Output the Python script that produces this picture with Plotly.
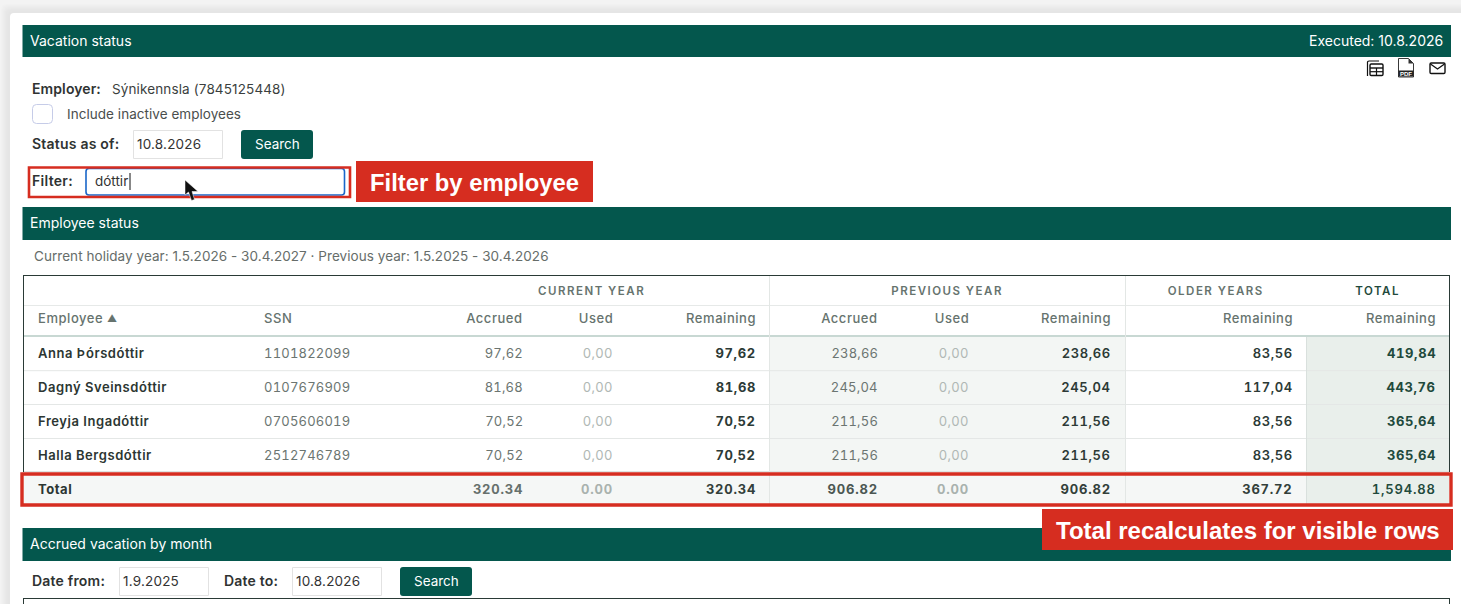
import json
import plotly.graph_objects as go

employees = ['Anna Þórsdóttir', 'Dagný Sveinsdóttir', 'Freyja Ingadóttir', 'Halla Bergsdóttir']
ssn = ['1101822099', '0107676909', '0705606019', '2512746789']
cur_accrued = [97.62, 81.68, 70.52, 70.52]
cur_used = [0.00, 0.00, 0.00, 0.00]
cur_remaining = [97.62, 81.68, 70.52, 70.52]
prev_accrued = [238.66, 245.04, 211.56, 211.56]
prev_used = [0.00, 0.00, 0.00, 0.00]
prev_remaining = [238.66, 245.04, 211.56, 211.56]
older_remaining = [83.56, 117.04, 83.56, 83.56]
total_remaining = [419.84, 443.76, 365.64, 365.64]
totals = [320.34, 0.00, 320.34, 906.82, 0.00, 906.82, 367.72, 1594.88]

group_labels = ['CURRENT YEAR', 'PREVIOUS YEAR', 'OLDER YEARS', 'TOTAL']
column_labels = ['Accrued', 'Used', 'Remaining', 'Accrued', 'Used', 'Remaining', 'Remaining', 'Remaining']

GREEN = '#04574d'
RED = '#d62d20'
INTER = 'Inter'
ARIAL = 'Liberation Sans'

shapes = []
annotations = []
text_css = []


def rect(x0, y0, x1, y1, fill=None, line=None, width=1):
    shapes.append(dict(type='rect', xref='x', yref='y', x0=x0, y0=y0, x1=x1, y1=y1,
                       fillcolor=fill or 'rgba(0,0,0,0)',
                       line=dict(color=line or 'rgba(0,0,0,0)', width=width if line else 0)))


def rrect(x0, y0, x1, y1, r, fill=None, line=None, width=1):
    p = (f'M{x0+r},{y0} L{x1-r},{y0} Q{x1},{y0} {x1},{y0+r} L{x1},{y1-r} Q{x1},{y1} {x1-r},{y1} '
         f'L{x0+r},{y1} Q{x0},{y1} {x0},{y1-r} L{x0},{y0+r} Q{x0},{y0} {x0+r},{y0} Z')
    shapes.append(dict(type='path', xref='x', yref='y', path=p,
                       fillcolor=fill or 'rgba(0,0,0,0)',
                       line=dict(color=line or 'rgba(0,0,0,0)', width=width if line else 0)))


def hline(x0, x1, y, color, width=1):
    shapes.append(dict(type='line', xref='x', yref='y', x0=x0, x1=x1, y0=y, y1=y, line=dict(color=color, width=width)))


def vline(x, y0, y1, color, width=1):
    shapes.append(dict(type='line', xref='x', yref='y', x0=x, x1=x, y0=y0, y1=y1, line=dict(color=color, width=width)))


def path(p, fill=None, line=None, width=1):
    shapes.append(dict(type='path', xref='x', yref='y', path=p,
                       fillcolor=fill or 'rgba(0,0,0,0)',
                       line=dict(color=line or 'rgba(0,0,0,0)', width=width if line else 0)))


def label(x, y, text, size=14, color='#333', weight=400, anchor='left', family=INTER, spacing=0, tabular=False):
    annotations.append(dict(xref='x', yref='y', x=x, y=y, text=text, showarrow=False, xanchor=anchor, align=anchor,
                            yanchor='middle', borderpad=0, borderwidth=0,
                            font=dict(family=family, size=size, color=color, weight=weight)))
    text_css.append([spacing, tabular])


def comma(v):
    return f'{v:.2f}'.replace('.', ',')


# page behind the card, soft shadow
rect(0, 0, 1461, 604, fill='#f3f3f3')
for i, gray in enumerate(['#f1f1f1', '#efefef', '#ededed', '#ebebeb', '#e9e9e9', '#e7e7e7', '#e6e6e6', '#e5e5e5']):
    off = 9 - i
    rrect(10 - off, 13 - off, 1490, 650, 6, fill=gray)
rrect(10, 13, 1480, 640, 4, fill='#ffffff')

# section bands
rect(22.5, 25, 1451, 57, fill=GREEN)
rect(22.5, 207, 1451, 240, fill=GREEN)
rect(22.5, 528, 1451, 561, fill=GREEN)
label(30, 40.5, 'Vacation status', 14, '#ffffff')
label(1443, 40.5, 'Executed: 10.8.2026', 14, '#ffffff', anchor='right')
label(30, 222.5, 'Employee status', 14, '#ffffff')
label(30, 543.5, 'Accrued vacation by month', 14, '#ffffff')

# export icons
path('M1367.5,76 L1367.5,62 Q1367.5,61 1369,61 L1379,61', line='#111111', width=1.2)
rrect(1370, 64, 1383, 75.5, 1.2, line='#111111', width=1.4)
hline(1370, 1383, 68, '#111111', 1.4)
hline(1370, 1383, 71.7, '#111111', 1.2)
vline(1376.5, 68, 75.5, '#111111', 1.2)
path('M1398.5,58.5 L1408.5,58.5 L1413.5,63.5 L1413.5,77 L1398.5,77 Z', line='#222222', width=0.9)
path('M1408.5,58.5 L1408.5,63.5 L1413.5,63.5 Z', fill='#333333')
rect(1398.5, 70.5, 1413.5, 76.5, fill='#222222')
label(1406, 73.5, 'PDF', 6, '#ffffff', 700, 'center', ARIAL)
rrect(1430, 63, 1445, 73.5, 1.2, line='#111111', width=1.4)
path('M1430.5,64 L1437.5,69 L1444.5,64', line='#111111', width=1.3)

# form rows
label(32, 88.5, 'Employer:', 14, '#2f3332', 600, spacing=0.1)
label(112, 89, 'Sýnikennsla (7845125448)', 13.5, '#3b3f3e', spacing=0.13)
rrect(32.5, 104.5, 52.5, 123.5, 4, fill='#ffffff', line='#c6cce8', width=1)
label(67, 114, 'Include inactive employees', 13.5, '#4a4e4d', spacing=0.04)
label(32, 143.5, 'Status as of:', 14, '#2f3332', 600, spacing=0.22)
rect(133.5, 130.5, 222.5, 158.5, fill='#ffffff', line='#e2e2e2')
label(137, 144, '10.8.2026', 13.5, '#333333', spacing=0.2)
rrect(241, 130, 313, 159, 3, fill=GREEN)
label(277, 144, 'Search', 13.5, '#ffffff', anchor='center')

label(32, 180.5, 'Filter:', 14, '#2f3332', 600, spacing=0.3)
rrect(86, 168.5, 344.5, 195, 3, fill='#ffffff', line='#1a66c9', width=1.6)
label(95, 181, 'dóttir', 13.5, '#333333')
vline(130, 173, 190, '#111111', 1)
rect(29, 167.5, 350, 197, line=RED, width=2.6)
# mouse pointer
path('M185,180 L185,195 L188.5,192 L191.5,200.5 L194.5,199.5 L192,191.5 L198,191.5 Z', fill='#111111', line='#ffffff', width=0.5)
rect(356, 161, 593, 202, fill=RED)
label(474.5, 182.5, 'Filter by employee', 23.8, '#ffffff', 700, 'center', ARIAL)

label(34, 256, 'Current holiday year: 1.5.2026 - 30.4.2027 · Previous year: 1.5.2025 - 30.4.2026', 13.5, '#666d6a', spacing=0.05)

# table fills
row_lines = [370.7, 404.5, 438.5]
rect(770, 337, 1125, 472, fill='#f3f6f4')
rect(1307, 337, 1449, 472, fill='#e9efeb')
rect(23, 472, 1449, 505, fill='#f5f7f6')
rect(1307, 472, 1449, 505, fill='#e9efeb')

# table lines
for y in row_lines:
    hline(24, 1449, y, '#e4e7e6', 1)
hline(24, 1449, 471.5, '#dfe3e1', 1)
hline(24, 1449, 305.5, '#e6e9e8', 1)
hline(24, 1449, 336, '#c8d8d3', 2)
vline(769.5, 276, 505, '#e3e7e5', 1)
vline(1125.5, 276, 505, '#e3e7e5', 1)
vline(1306.5, 337, 505, '#d9e0dd', 1)
hline(23, 1450, 275.5, '#2a3a36', 1)
vline(23.5, 275, 472, '#2a3a36', 1)
vline(1449.5, 275, 472, '#2a3a36', 1)

# table header
group_x = [592, 947, 1215.5, 1377.5]
group_colors = ['#66736e', '#66736e', '#66736e', '#1f4a3c']
for x, t, c in zip(group_x, group_labels, group_colors):
    label(x, 291, t, 11.5, c, 600, 'center', spacing=1.5)
label(38, 318, 'Employee', 13, '#66736e', 500, spacing=0.55)
label(107, 318, '▲', 10, '#66736e')
label(264, 318, 'SSN', 13, '#66736e', 500, spacing=0.6)
col_x = [522.5, 613, 755.5, 877.5, 968.5, 1111, 1292.5, 1435.5]
for x, t in zip(col_x, column_labels):
    label(x, 318, t, 13, '#66736e', 500, 'right', spacing=0.55)

# table body
row_y = [353, 387, 421, 455]
columns = [cur_accrued, cur_used, cur_remaining, prev_accrued, prev_used, prev_remaining, older_remaining, total_remaining]
styles = [('#6b7571', 400, 0.2), ('#b0b8b4', 400, 0.3), ('#2c3a36', 700, 0.6), ('#6b7571', 400, 0.2), ('#b0b8b4', 400, 0.3),
          ('#2c3a36', 600, 0.6), ('#2c3a36', 600, 0.6), ('#1f4a3c', 700, 0.6)]
for i, y in enumerate(row_y):
    label(38, y, employees[i], 13, '#2c3632', 600, spacing=0.55)
    label(264, y, ssn[i], 13, '#6b7571', spacing=0.2, tabular=True)
    for x, col, (c, w, sp) in zip(col_x, columns, styles):
        label(x, y, comma(col[i]), 13, c, w, 'right', spacing=sp, tabular=True)

# total row
label(38, 489, 'Total', 13, '#2c3632', 700, spacing=0.55)
total_colors = ['#66706c', '#a9b2ae', '#333f3a', '#4c5753', '#a9b2ae', '#333f3a', '#333f3a', '#1f4a3c']
for x, v, c in zip(col_x, totals, total_colors):
    label(x, 489, f'{v:,.2f}', 13, c, 700 if c != '#1f4a3c' else 600, 'right', spacing=0.8, tabular=True)
rect(22, 474, 1451, 505, line=RED, width=3.4)

rect(1042, 509, 1453, 550, fill=RED)
label(1247.5, 530.5, 'Total recalculates for visible rows', 24, '#ffffff', 700, 'center', ARIAL)

# second form
label(32, 580.5, 'Date from:', 14, '#2f3332', 600, spacing=0.2)
rect(119.5, 567.5, 208.5, 595.5, fill='#ffffff', line='#e2e2e2')
label(123, 581, '1.9.2025', 13.5, '#333333', spacing=0.2)
label(224, 580.5, 'Date to:', 14, '#2f3332', 600, spacing=0.2)
rect(292.5, 567.5, 381.5, 595.5, fill='#ffffff', line='#e2e2e2')
label(296, 581, '10.8.2026', 13.5, '#333333', spacing=0.2)
rrect(400, 567, 472, 596, 3, fill=GREEN)
label(436, 581, 'Search', 13.5, '#ffffff', anchor='center')
hline(23, 1450, 598.5, '#2a3a36', 1)
vline(23.5, 598, 604, '#2a3a36', 1)
vline(1449.5, 598, 604, '#2a3a36', 1)

fig = go.Figure(go.Scatter(x=[], y=[], hoverinfo='skip', showlegend=False))
fig.update_xaxes(range=[0, 1461], visible=False, fixedrange=True)
fig.update_yaxes(range=[604, 0], visible=False, fixedrange=True)
fig.update_layout(width=1461, height=604, margin=dict(l=0, r=0, t=0, b=0), autosize=False,
                  paper_bgcolor='#ffffff', plot_bgcolor='#ffffff', shapes=shapes, annotations=annotations,
                  hovermode=False)

# plotly has no letter spacing for annotations, set it on the svg text afterwards
post = """
document.body.style.margin = '0';
var textCss = %s;
function applyCss() {
  document.querySelectorAll('.annotation').forEach(function (a) {
    var css = textCss[+a.getAttribute('data-index')];
    var t = a.querySelector('text');
    if (!css || !t) return;
    t.style.letterSpacing = css[0] + 'px';
    if (css[1]) t.style.fontVariantNumeric = 'tabular-nums';
  });
}
applyCss();
setTimeout(applyCss, 50);
""" % json.dumps(text_css)

fig.write_html('out.html', config={'displayModeBar': False, 'responsive': False}, post_script=post)
